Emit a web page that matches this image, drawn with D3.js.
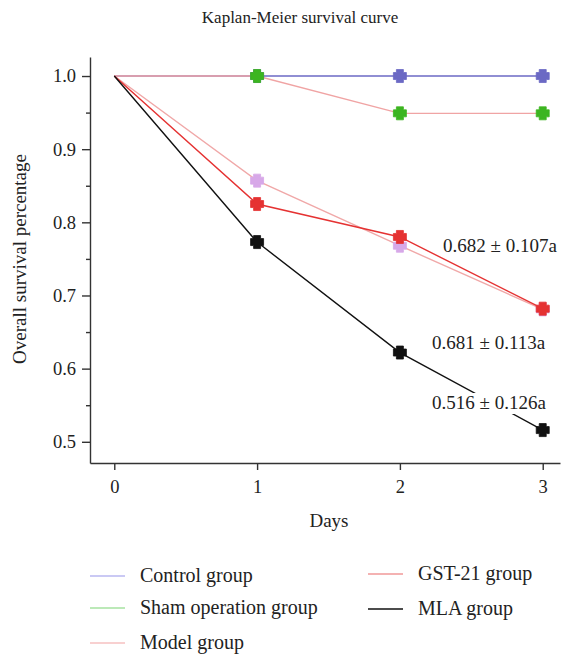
<!DOCTYPE html>
<html>
<head>
<meta charset="utf-8">
<script src="https://cdn.jsdelivr.net/npm/d3@7"></script>
<style>
  body { margin: 0; background: #fff; }
  text { font-family: "Liberation Serif", "DejaVu Serif", serif; fill: #222; }
</style>
</head>
<body>
<svg id="chart" width="567" height="656"></svg>
<script>
// data
const days = [0, 1, 2, 3];
const control = [1.0, 1.0, 1.0, 1.0];
const sham = [1.0, 1.0, 0.949, 0.949];
const model = [1.0, 0.857, 0.768, 0.681];
const gst21 = [1.0, 0.825, 0.780, 0.682];
const mla = [1.0, 0.773, 0.622, 0.516];

const yTicks = [0.5, 0.6, 0.7, 0.8, 0.9, 1.0];
const yMinor = [0.55, 0.65, 0.75, 0.85, 0.95];

const series = [
  { name: "Control group", values: control, line: "#6b69c4", mark: "#6b69c4", legend: "#b9b7f0" },
  { name: "Sham operation group", values: sham, line: "#f0a4a4", mark: "#3cb521", legend: "#a6e2a0" },
  { name: "Model group", values: model, line: "#f0a8a8", mark: "#d7a8e8", legend: "#f6c0c0" },
  { name: "GST-21 group", values: gst21, line: "#e53232", mark: "#e53232", legend: "#f09898" },
  { name: "MLA group", values: mla, line: "#111", mark: "#111", legend: "#111" }
];

// labels at day 3
const notes = [
  { text: "0.682 \u00b1 0.107a", x: 443, y: 252 },
  { text: "0.681 \u00b1 0.113a", x: 432, y: 349 },
  { text: "0.516 \u00b1 0.126a", x: 432, y: 409 }
];

const svg = d3.select("#chart");

// scales, extended a bit past the data like the original frame
const x = d3.scaleLinear().domain([-0.17, 3.121]).range([90, 560]);
const y = d3.scaleLinear().domain([0.471, 1.026]).range([463, 57]);

svg.append("text")
  .attr("x", 300).attr("y", 23)
  .attr("text-anchor", "middle")
  .style("font-size", "17px")
  .text("Kaplan-Meier survival curve");

// y axis
const yAxis = svg.append("g")
  .attr("transform", "translate(90,0)")
  .call(d3.axisLeft(y).tickValues(yTicks).tickFormat(d3.format(".1f")).tickSize(8).tickSizeOuter(0).tickPadding(6));
yAxis.selectAll("text").style("font-size", "18.5px").attr("font-family", null);

svg.append("g")
  .attr("transform", "translate(90,0)")
  .call(d3.axisLeft(y).tickValues(yMinor).tickFormat("").tickSize(4).tickSizeOuter(0))
  .select(".domain").remove();

// x axis
const xAxis = svg.append("g")
  .attr("transform", "translate(0,463)")
  .call(d3.axisBottom(x).tickValues(days).tickFormat(d3.format("d")).tickSize(7).tickSizeOuter(0).tickPadding(10));
xAxis.selectAll("text").style("font-size", "18.5px").attr("font-family", null);

svg.selectAll(".domain, .tick line").attr("stroke", "#333").attr("stroke-width", 1.4);

svg.append("text")
  .attr("x", 329).attr("y", 527)
  .attr("text-anchor", "middle")
  .style("font-size", "19px")
  .text("Days");

svg.append("text")
  .attr("transform", "translate(26,259) rotate(-90)")
  .attr("text-anchor", "middle")
  .style("font-size", "19px")
  .text("Overall survival percentage");

// lines
const line = d3.line().x((d, i) => x(days[i])).y(d => y(d));

svg.selectAll(".series")
  .data(series)
  .enter().append("path")
  .attr("class", "series")
  .attr("d", d => line(d.values))
  .attr("fill", "none")
  .attr("stroke", d => d.line)
  .attr("stroke-width", 1.4);

// annotation boxes cut the lines underneath
const noteG = svg.selectAll(".note")
  .data(notes)
  .enter().append("g")
  .attr("class", "note");

noteG.append("rect")
  .attr("x", d => d.x - 2)
  .attr("y", d => d.y - 16)
  .attr("width", 126)
  .attr("height", 21)
  .attr("fill", "#fff");

noteG.append("text")
  .attr("x", d => d.x)
  .attr("y", d => d.y)
  .style("font-size", "19px")
  .text(d => d.text);

// fat plus marker like the original
const fatPlus = {
  draw(ctx, size) {
    const a = 6.5, b = 3.5;
    ctx.moveTo(-b, -a); ctx.lineTo(b, -a); ctx.lineTo(b, -b); ctx.lineTo(a, -b);
    ctx.lineTo(a, b); ctx.lineTo(b, b); ctx.lineTo(b, a); ctx.lineTo(-b, a);
    ctx.lineTo(-b, b); ctx.lineTo(-a, b); ctx.lineTo(-a, -b); ctx.lineTo(-b, -b);
    ctx.closePath();
  }
};
const cross = d3.symbol().type(fatPlus);

series.forEach(s => {
  svg.append("g")
    .selectAll("path")
    .data(s.values.slice(1))
    .enter().append("path")
    .attr("transform", (d, i) => `translate(${x(days[i + 1])},${y(d)})`)
    .attr("d", cross)
    .attr("fill", s.mark)
    .attr("stroke", s.mark)
    .attr("stroke-width", 0.8)
    .attr("stroke-linejoin", "round");
});

// legend
const legendPos = [
  { x: 90, y: 576 }, { x: 90, y: 608 }, { x: 90, y: 643 },
  { x: 368, y: 574 }, { x: 368, y: 609 }
];

const legend = svg.selectAll(".legend")
  .data(series)
  .enter().append("g")
  .attr("class", "legend")
  .attr("transform", (d, i) => `translate(${legendPos[i].x},${legendPos[i].y})`);

legend.append("line")
  .attr("x1", 0).attr("x2", 35)
  .attr("y1", 0).attr("y2", 0)
  .attr("stroke", d => d.legend)
  .attr("stroke-width", 1.4);

legend.append("text")
  .attr("x", 50).attr("y", 6)
  .style("font-size", "20px")
  .text(d => d.name);
</script>
</body>
</html>
